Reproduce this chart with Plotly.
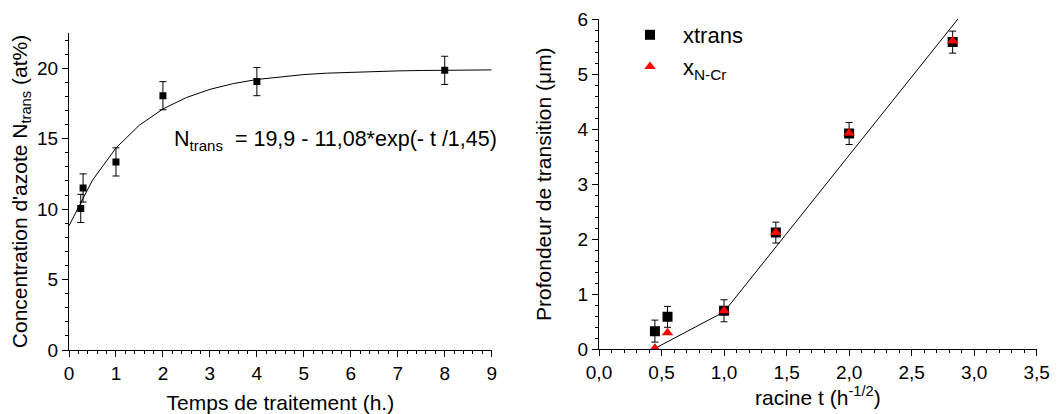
import plotly.graph_objects as go

# ---- Left panel data ----
t_hours = [0.25, 0.3, 1, 2, 4, 8]
n_trans = [10.05, 11.5, 13.35, 18.05, 19.05, 19.85]
n_err = [1.0, 1.0, 1.0, 1.0, 1.0, 1.0]

fit_t = [0, 0.5, 1, 1.5, 2, 2.5, 3, 3.5, 4, 4.5, 5, 5.5, 6, 6.5, 7, 7.5, 8, 8.5, 9]
fit_n = [8.82, 12.05, 14.34, 15.96, 17.11, 17.92, 18.50, 18.91, 19.20, 19.40,
         19.55, 19.65, 19.72, 19.77, 19.81, 19.84, 19.86, 19.87, 19.88]

# ---- Right panel data ----
sqrt_t = [0.447, 0.548, 1.0, 1.414, 2.0, 2.828]
x_trans = [0.33, 0.59, 0.70, 2.12, 3.92, 5.58]
x_trans_err = [0.20, 0.19, 0.20, 0.19, 0.20, 0.20]
x_ncr = [0.02, 0.30, 0.70, 2.12, 3.93, 5.60]

line_x = [0.45, 1.0, 2.87]
line_y = [0.02, 0.68, 6.0]

FONT = "Liberation Sans, Arial, Helvetica, sans-serif"
OFF = 8                     # page body margin
W, H = 1063 - OFF, 414 - OFF


def px(x):
    return (x - OFF) / W


def py(y):
    return 1 - (y - OFF) / H


fig = go.Figure()

fig.add_trace(go.Scatter(x=fit_t, y=fit_n, mode="lines",
                         line=dict(color="black", width=1),
                         xaxis="x", yaxis="y", showlegend=False, hoverinfo="skip"))
fig.add_trace(go.Scatter(x=t_hours, y=n_trans, mode="markers",
                         marker=dict(symbol="square", size=7, color="black"),
                         error_y=dict(type="data", array=n_err, color="black",
                                      thickness=1, width=3.5),
                         xaxis="x", yaxis="y", showlegend=False))

fig.add_trace(go.Scatter(x=line_x, y=line_y, mode="lines",
                         line=dict(color="black", width=1),
                         xaxis="x2", yaxis="y2", showlegend=False, hoverinfo="skip"))
fig.add_trace(go.Scatter(x=sqrt_t, y=x_trans, mode="markers", name="xtrans",
                         marker=dict(symbol="square", size=10, color="black"),
                         error_y=dict(type="data", array=x_trans_err, color="black",
                                      thickness=1, width=3.5),
                         xaxis="x2", yaxis="y2"))
fig.add_trace(go.Scatter(x=sqrt_t, y=x_ncr, mode="markers",
                         name="x<sub>N-Cr</sub>",
                         marker=dict(symbol="triangle-up", size=10, color="red"),
                         xaxis="x2", yaxis="y2"))

axis_common = dict(showline=True, linecolor="black", linewidth=1,
                   ticks="outside", ticklen=6, tickwidth=1, tickcolor="black",
                   showgrid=False, zeroline=False, mirror=False, automargin=False,
                   tickfont=dict(family=FONT, size=19, color="black"))

TITLE_FONT = dict(family=FONT, size=21, color="black")

fig.update_layout(
    width=W, height=H,
    margin=dict(l=0, r=0, t=0, b=0),
    paper_bgcolor="white", plot_bgcolor="white",
    separators=", ",
    font=dict(family=FONT, color="black"),
    xaxis=dict(domain=[px(69), px(491.7)], range=[0, 9], dtick=1, tick0=0,
               anchor="y",
               minor=dict(dtick=0.2, ticks="outside", ticklen=3, tickcolor="black"),
               title=dict(text="Temps de traitement (h.)", standoff=17, font=TITLE_FONT),
               **axis_common),
    yaxis=dict(domain=[py(350), py(33)], range=[0, 22.5], dtick=5, tick0=0,
               anchor="x",
               minor=dict(dtick=1, ticks="outside", ticklen=3, tickcolor="black"),
               title=dict(text="Concentration d'azote N<sub>trans</sub> (at%)",
                          standoff=4, font=TITLE_FONT),
               **axis_common),
    xaxis2=dict(domain=[px(599), px(1036.7)], range=[0, 3.5], dtick=0.5, tick0=0,
                tickformat=".1f", anchor="y2",
                minor=dict(dtick=0.1, ticks="outside", ticklen=3, tickcolor="black"),
                title=dict(text="racine t (h<sup>-1/2</sup>)", standoff=8, font=TITLE_FONT),
                **axis_common),
    yaxis2=dict(domain=[py(349.3), py(19)], range=[0, 6], dtick=1, tick0=0,
                anchor="x2",
                minor=dict(dtick=0.2, ticks="outside", ticklen=3, tickcolor="black"),
                title=dict(text="Profondeur de transition (μm)", standoff=20,
                           font=TITLE_FONT),
                **axis_common),
    legend=dict(x=px(617), y=py(14), xanchor="left", yanchor="top",
                bgcolor="rgba(0,0,0,0)", font=dict(family=FONT, size=22, color="black"),
                itemwidth=56, tracegroupgap=0),
    annotations=[dict(x=2.2, y=14.9, xref="x", yref="y", xanchor="left",
                      yanchor="middle", showarrow=False,
                      text="N<sub>trans</sub>  = 19,9 - 11,08*exp(- t /1,45)",
                      font=dict(family=FONT, size=21.5, color="black"))],
)

fig.write_html("out.html")
